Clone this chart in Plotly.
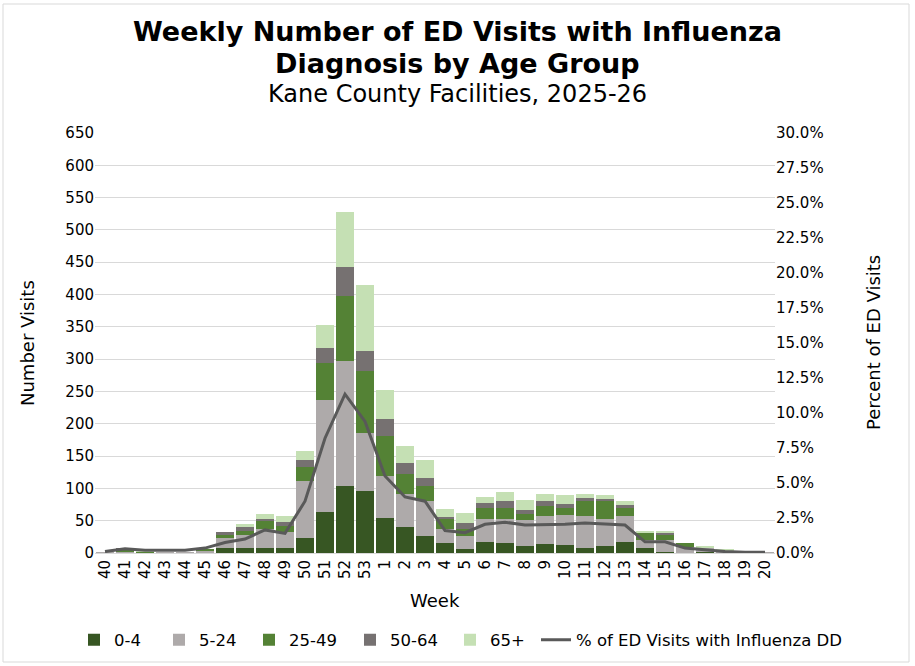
import plotly.graph_objects as go

weeks = ["40","41","42","43","44","45","46","47","48","49","50","51","52","53",
         "1","2","3","4","5","6","7","8","9","10","11","12","13","14","15","16","17","18","19","20"]
age_0_4   = [0,1,0,0,0,0,7,7,7,8,23,64,104,96,54,40,26,15,6,17,16,11,14,12,8,11,17,8,2,0,1,0,0,0]
age_5_24  = [1,1,1,1,1,4,16,21,30,24,88,173,193,90,65,51,54,22,21,36,37,40,43,47,49,42,40,12,18,9,7,3,1,1]
age_25_49 = [0,4,1,0,0,2,5,6,12,10,22,57,100,95,62,31,24,16,10,17,17,10,16,11,23,27,13,11,9,7,1,1,0,0]
age_50_64 = [0,1,0,0,0,0,5,6,4,6,11,23,46,32,26,17,12,3,9,7,10,6,7,6,5,4,4,1,2,0,0,0,0,0]
age_65    = [0,0,2,0,0,0,0,5,7,9,14,36,85,102,45,27,28,12,16,10,15,15,11,14,6,6,6,2,3,0,2,1,0,0]
pct_flu   = [0.1,0.3,0.2,0.2,0.2,0.35,0.75,1.0,1.65,1.4,3.7,8.2,11.35,9.4,5.5,4.0,3.7,1.6,1.45,
             2.05,2.2,2.0,2.0,2.05,2.15,2.1,2.0,0.8,0.8,0.35,0.2,0.1,0.05,0.05]

series = [
    ("0-4", age_0_4, "#375623"),
    ("5-24", age_5_24, "#AEAAAA"),
    ("25-49", age_25_49, "#548235"),
    ("50-64", age_50_64, "#767171"),
    ("65+", age_65, "#C5E0B4"),
]
line_name = "% of ED Visits with Influenza DD"

FONT = "Verdana, DejaVu Sans, sans-serif"
L, R, T, B = 95, 140, 133, 113
W, H = 915, 666
pw, ph = W - L - R, H - T - B

# legend text start positions (pixels) for the six entries
legend_text_x = [114, 199, 289, 390, 490, 576]
LEG_Y = 640

def px(x):
    return (x - L) / pw

def py(y):
    return (H - B - y) / ph

fig = go.Figure()
for i, (name, vals, col) in enumerate(series):
    fig.add_trace(go.Bar(x=weeks, y=vals, name=name, marker=dict(color=col, line=dict(width=0)),
                         legend="legend" if i == 0 else f"legend{i+1}", showlegend=True))
fig.add_trace(go.Scatter(x=weeks, y=pct_flu, name=line_name, yaxis="y2", legend="legend6",
                         showlegend=True, mode="lines", line=dict(color="#595959", width=3)))

annotations = [
    dict(text="<b>Weekly Number of ED Visits with Influenza</b>", x=px(457), y=py(32),
         font=dict(size=27)),
    dict(text="<b>Diagnosis by Age Group</b>", x=px(457), y=py(64), font=dict(size=27)),
    dict(text="Kane County Facilities, 2025-26", x=px(457), y=py(94), font=dict(size=24)),
    dict(text="Number Visits", x=px(27), y=py(343), textangle=-90, font=dict(size=18)),
    dict(text="Percent of ED Visits", x=px(873), y=py(343), textangle=-90, font=dict(size=18)),
    dict(text="Week", x=px(435), y=py(600), font=dict(size=18)),
]
for a in annotations:
    a.update(xref="paper", yref="paper", showarrow=False, xanchor="center", yanchor="middle")
    a["font"].update(family=FONT, color="#000000")

legends = {}
for i, tx in enumerate(legend_text_x):
    key = "legend" if i == 0 else f"legend{i+1}"
    legends[key] = dict(orientation="h", xref="container", yref="container",
                        x=(tx - 40) / W, xanchor="left", y=(H - LEG_Y) / H, yanchor="middle",
                        font=dict(size=16.5, family=FONT), itemwidth=30,
                        bgcolor="rgba(0,0,0,0)", visible=True)

# chart-area border
shapes = [dict(type="rect", xref="paper", yref="paper",
               x0=px(3), x1=px(909), y0=py(662), y1=py(4),
               line=dict(color="#D9D9D9", width=1), fillcolor="rgba(0,0,0,0)", layer="below")]

fig.update_layout(
    width=W, height=H,
    showlegend=True,
    barmode="stack", bargap=0.12,
    paper_bgcolor="white", plot_bgcolor="white",
    margin=dict(l=L, r=R, t=T, b=B, autoexpand=False),
    font=dict(family=FONT, size=15, color="#000000"),
    annotations=annotations,
    shapes=shapes,
    xaxis=dict(type="category", tickangle=-90, showgrid=False, showline=True,
               linecolor="#D9D9D9", linewidth=1, ticks="", tickfont=dict(size=15)),
    yaxis=dict(range=[0, 650], dtick=50, showgrid=True, gridcolor="#D9D9D9", gridwidth=1,
               zeroline=False, ticks="", tickfont=dict(size=15)),
    yaxis2=dict(range=[0, 30], dtick=2.5, overlaying="y", side="right", showgrid=False,
                zeroline=False, ticksuffix="%", tickformat=".1f", ticks="",
                tickfont=dict(size=15)),
    **legends,
)

fig.write_html("out.html", config={"displayModeBar": False},
               post_script="document.body.style.margin='0px';")
